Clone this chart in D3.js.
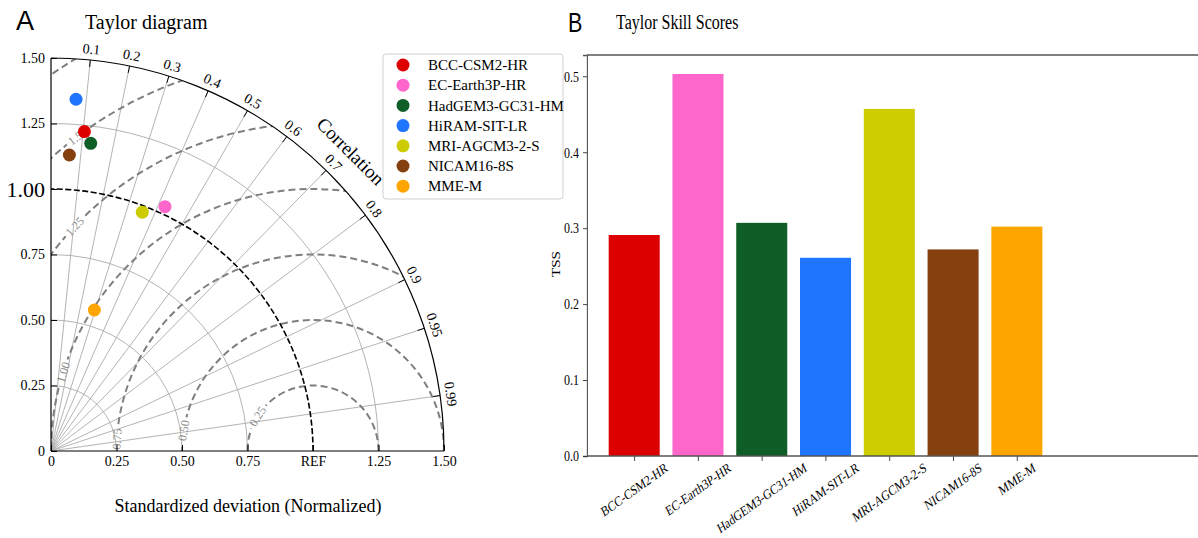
<!DOCTYPE html>
<html>
<head>
<meta charset="utf-8">
<script src="https://cdn.jsdelivr.net/npm/d3@7"></script>
<style>
  body { margin: 0; background: #fff; }
  svg { display: block; }
  text { font-family: "Liberation Serif", "Times New Roman", serif; }
</style>
</head>
<body>
<svg id="chart" width="1198" height="538"></svg>
<script>
// model names and colours (shared by both panels)
const models = ["BCC-CSM2-HR", "EC-Earth3P-HR", "HadGEM3-GC31-HM", "HiRAM-SIT-LR", "MRI-AGCM3-2-S", "NICAM16-8S", "MME-M"];
const colors = ["#dd0000", "#ff66cc", "#0f5e27", "#1f75fe", "#cccc00", "#84400f", "#ffa500"];

// Taylor diagram values (normalized std, correlation)
const stdDev = [1.226, 1.029, 1.184, 1.346, 0.976, 1.132, 0.563];
const corr = [0.104, 0.423, 0.128, 0.071, 0.357, 0.062, 0.294];

// Taylor skill scores
const tss = [0.291, 0.503, 0.307, 0.261, 0.457, 0.272, 0.302];

// axes / grid
const stdTicks = [0, 0.25, 0.5, 0.75, 1.0, 1.25, 1.5];
const yTickLabels = ["0", "0.25", "0.50", "0.75", "1.00", "1.25", "1.50"];
const xTickLabels = ["0", "0.25", "0.50", "0.75", "REF", "1.25", "1.50"];
const corrTicks = [0.1, 0.2, 0.3, 0.4, 0.5, 0.6, 0.7, 0.8, 0.9, 0.95, 0.99];
const stdArcs = [0.25, 0.5, 0.75, 1.25];
const rmsLevels = [0.25, 0.5, 0.75, 1.0, 1.25, 1.5, 1.75];
const rmsLabels = ["0.25", "0.50", "0.75", "1.00", "1.25", "1.50", ""];
const tssTicks = [0.0, 0.1, 0.2, 0.3, 0.4, 0.5];

const svg = d3.select("#chart");

// ---------------- Panel A: Taylor diagram ----------------
const maxStd = 1.5;
const xS = d3.scaleLinear().domain([0, maxStd]).range([51, 444]);
const yS = d3.scaleLinear().domain([0, maxStd]).range([451, 58]);
const ox = xS(0), oy = yS(0);
const R = xS(maxStd) - ox; // pixel radius of outer arc
const pxPerUnit = R / maxStd;

function polar(s, c) {
    const a = Math.acos(c);
    return [xS(s * Math.cos(a)), yS(s * Math.sin(a))];
}

const gA = svg.append("g");

svg.append("text").attr("x", 16).attr("y", 30)
    .style("font-family", "'Liberation Sans', Arial, sans-serif").style("font-size", "27px")
    .text("A");
svg.append("text").attr("x", 85).attr("y", 29).style("font-size", "20px").text("Taylor diagram");

// clip to the quarter disc
const defs = svg.append("defs");
defs.append("clipPath").attr("id", "quarter")
    .append("path")
    .attr("d", () => {
        const p = d3.path();
        p.moveTo(ox, oy);
        p.lineTo(ox + R, oy);
        p.arc(ox, oy, R, 0, -Math.PI / 2, true);
        p.closePath();
        return p.toString();
    });

// mask used to cut the rms contours where their labels sit
const mask = defs.append("mask").attr("id", "rmsMask").attr("maskUnits", "userSpaceOnUse")
    .attr("x", 0).attr("y", 0).attr("width", 600).attr("height", 538);
mask.append("rect").attr("x", 0).attr("y", 0).attr("width", 600).attr("height", 538).attr("fill", "#fff");

// std arcs (grey)
stdArcs.forEach(s => {
    const p = d3.path();
    p.moveTo(ox + s * pxPerUnit, oy);
    p.arc(ox, oy, s * pxPerUnit, 0, -Math.PI / 2, true);
    gA.append("path").attr("d", p.toString())
        .attr("fill", "none").attr("stroke", "#ababab").attr("stroke-width", 0.9);
});

// correlation lines
corrTicks.forEach(c => {
    const [x2, y2] = polar(maxStd, c);
    gA.append("line").attr("x1", ox).attr("y1", oy).attr("x2", x2).attr("y2", y2)
        .attr("stroke", "#ababab").attr("stroke-width", 0.9);
});

// rms contours around REF
const refX = xS(1), refY = yS(0);
const rmsG = gA.append("g").attr("clip-path", "url(#quarter)");
const rmsInner = rmsG.append("g").attr("mask", "url(#rmsMask)");
rmsLevels.forEach(r => {
    const p = d3.path();
    p.moveTo(refX + r * pxPerUnit, refY);
    p.arc(refX, refY, r * pxPerUnit, 0, -Math.PI, true);
    rmsInner.append("path").attr("d", p.toString())
        .attr("fill", "none").attr("stroke", "#7f7f7f").attr("stroke-width", 2)
        .attr("stroke-dasharray", "7,4");
});

// rms labels (angle around REF, degrees)
const rmsLabelAngle = [148, 171, 176.5, 162.5, 136.7, 126.8, null];
rmsLevels.forEach((r, i) => {
    if (!rmsLabels[i]) return;
    const th = rmsLabelAngle[i] * Math.PI / 180;
    const lx = xS(1 + r * Math.cos(th));
    const ly = yS(r * Math.sin(th));
    const rot = 90 - rmsLabelAngle[i];
    const t = gA.append("text")
        .attr("transform", `translate(${lx},${ly}) rotate(${rot})`)
        .attr("text-anchor", "middle").attr("dy", "0.35em")
        .style("font-size", "12px").attr("fill", "#8a8a8a")
        .text(rmsLabels[i]);
    const w = t.node().getComputedTextLength();
    mask.append("rect")
        .attr("transform", `translate(${lx},${ly}) rotate(${rot})`)
        .attr("x", -w / 2 - 3).attr("y", -6).attr("width", w + 6).attr("height", 12)
        .attr("fill", "#000");
});

// REF std arc (black dashed)
{
    const p = d3.path();
    p.moveTo(xS(1), oy);
    p.arc(ox, oy, pxPerUnit, 0, -Math.PI / 2, true);
    gA.append("path").attr("d", p.toString())
        .attr("fill", "none").attr("stroke", "#000").attr("stroke-width", 1.6)
        .attr("stroke-dasharray", "6,2.5");
}

// outer arc
{
    const p = d3.path();
    p.moveTo(ox + R, oy);
    p.arc(ox, oy, R, 0, -Math.PI / 2, true);
    gA.append("path").attr("d", p.toString())
        .attr("fill", "none").attr("stroke", "#000").attr("stroke-width", 1.2);
}

// correlation ticks and labels on the outer arc
corrTicks.forEach(c => {
    const [x1, y1] = polar(maxStd, c);
    const [x2, y2] = polar(maxStd - 7 / pxPerUnit, c);
    gA.append("line").attr("x1", x1).attr("y1", y1).attr("x2", x2).attr("y2", y2)
        .attr("stroke", "#000").attr("stroke-width", 1);
    const [lx, ly] = polar(maxStd + 11 / pxPerUnit, c);
    const rot = 90 - Math.acos(c) * 180 / Math.PI;
    gA.append("text")
        .attr("transform", `translate(${lx},${ly}) rotate(${rot})`)
        .attr("text-anchor", "middle").attr("dy", "0.35em")
        .style("font-size", "14px")
        .text(String(c));
});

{
    const [lx, ly] = polar(maxStd + 31 / pxPerUnit, Math.SQRT1_2);
    gA.append("text")
        .attr("transform", `translate(${lx},${ly}) rotate(45)`)
        .attr("text-anchor", "middle").attr("dy", "0.35em")
        .style("font-size", "19px")
        .text("Correlation");
}

// axes
const yAxis = d3.axisLeft(yS).tickValues(stdTicks).tickSize(-6).tickPadding(6)
    .tickFormat((d, i) => yTickLabels[i]);
const yg = gA.append("g").attr("transform", `translate(${ox},0)`).call(yAxis);
yg.select(".domain").remove();
yg.selectAll("text").style("font-family", "'Liberation Serif', serif").style("font-size", "14px").attr("fill", "#000");
yg.selectAll("text").filter((d, i) => i === 4).style("font-size", "22px");
yg.selectAll("line").attr("stroke", "#000");

const xAxis = d3.axisBottom(xS).tickValues(stdTicks).tickSize(-6).tickPadding(5)
    .tickFormat((d, i) => xTickLabels[i]);
const xg = gA.append("g").attr("transform", `translate(0,${oy})`).call(xAxis);
xg.select(".domain").remove();
xg.selectAll("text").style("font-family", "'Liberation Serif', serif").style("font-size", "14px").attr("fill", "#000");
xg.selectAll("line").attr("stroke", "#000");

gA.append("line").attr("x1", ox).attr("y1", oy).attr("x2", ox).attr("y2", yS(maxStd))
    .attr("stroke", "#000").attr("stroke-width", 1.2);
gA.append("line").attr("x1", ox).attr("y1", oy).attr("x2", xS(maxStd)).attr("y2", oy)
    .attr("stroke", "#000").attr("stroke-width", 1.2);

gA.append("text").attr("x", 248).attr("y", 512).attr("text-anchor", "middle")
    .style("font-size", "18px").text("Standardized deviation (Normalized)");

// model points
gA.selectAll("circle.pt")
    .data(models)
    .enter().append("circle")
    .attr("class", "pt")
    .attr("cx", (d, i) => polar(stdDev[i], corr[i])[0])
    .attr("cy", (d, i) => polar(stdDev[i], corr[i])[1])
    .attr("r", 6.5)
    .attr("fill", (d, i) => colors[i]);

// legend
const leg = gA.append("g").attr("transform", "translate(383,54)");
leg.append("rect").attr("width", 180).attr("height", 145).attr("rx", 3)
    .attr("fill", "#fff").attr("fill-opacity", 0.85).attr("stroke", "#d0d0d0");
models.forEach((m, i) => {
    const row = leg.append("g").attr("transform", `translate(0,${11 + i * 20.2})`);
    row.append("circle").attr("cx", 20).attr("cy", 0).attr("r", 6.5).attr("fill", colors[i]);
    row.append("text").attr("x", 45).attr("y", 0).attr("dy", "0.35em")
        .style("font-size", "15px").text(m);
});

// ---------------- Panel B: Taylor skill scores ----------------
// the panel is drawn horizontally squeezed, as in the original figure
const squeeze = 0.8;
const left = 587;
const innerW = (1198 - left) / squeeze;
const gB = svg.append("g").attr("transform", `translate(${left},0) scale(${squeeze},1)`);

gB.append("text").attr("x", (568 - left) / squeeze).attr("y", 32)
    .style("font-family", "'Liberation Sans', Arial, sans-serif").style("font-size", "27px")
    .text("B");
gB.append("text").attr("x", (616 - left) / squeeze).attr("y", 29)
    .style("font-size", "20px").text("Taylor Skill Scores");

const bx = d3.scaleLinear().domain([-0.74, 8.84]).range([0, innerW]);
const by = d3.scaleLinear().domain([0, 0.528]).range([456, 55]);
const barW = bx(0.8) - bx(0);

gB.selectAll("rect.bar")
    .data(tss)
    .enter().append("rect")
    .attr("class", "bar")
    .attr("x", (d, i) => bx(i) - barW / 2)
    .attr("y", d => by(d))
    .attr("width", barW)
    .attr("height", d => by(0) - by(d))
    .attr("fill", (d, i) => colors[i]);

const byAxis = d3.axisLeft(by).tickValues(tssTicks).tickSize(5).tickPadding(5)
    .tickFormat(d3.format(".1f"));
const byg = gB.append("g").call(byAxis);
byg.select(".domain").attr("stroke", "#555").attr("stroke-width", 1.4);
byg.selectAll("line").attr("stroke", "#333");
byg.selectAll("text").style("font-family", "'Liberation Serif', serif").style("font-size", "15px").attr("fill", "#000");

const bxAxis = d3.axisBottom(bx).tickValues(d3.range(models.length)).tickSize(5).tickFormat("");
const bxg = gB.append("g").attr("transform", `translate(0,${by(0)})`).call(bxAxis);
bxg.select(".domain").remove();
bxg.selectAll("line").attr("stroke", "#333");

gB.append("line").attr("x1", 0).attr("x2", innerW).attr("y1", by(0)).attr("y2", by(0))
    .attr("stroke", "#555").attr("stroke-width", 1.4);
gB.append("line").attr("x1", 0).attr("x2", innerW).attr("y1", 55).attr("y2", 55)
    .attr("stroke", "#555").attr("stroke-width", 1.4);

// rotated category labels, top of rotated box just under the ticks
models.forEach((m, i) => {
    const t = gB.append("text").attr("text-anchor", "middle").attr("dy", "0.35em")
        .style("font-size", "14px").text(m);
    const L = t.node().getComputedTextLength();
    const h = 12;
    const cy = 461 + (L * 0.5 + h * 0.866) / 2;
    t.attr("transform", `translate(${bx(i)},${cy}) rotate(-30)`);
});

gB.append("text")
    .attr("transform", `translate(${(556 - left) / squeeze},264) rotate(-90)`)
    .attr("text-anchor", "middle").attr("dy", "0.35em")
    .style("font-size", "15px").text("TSS");
</script>
</body>
</html>
